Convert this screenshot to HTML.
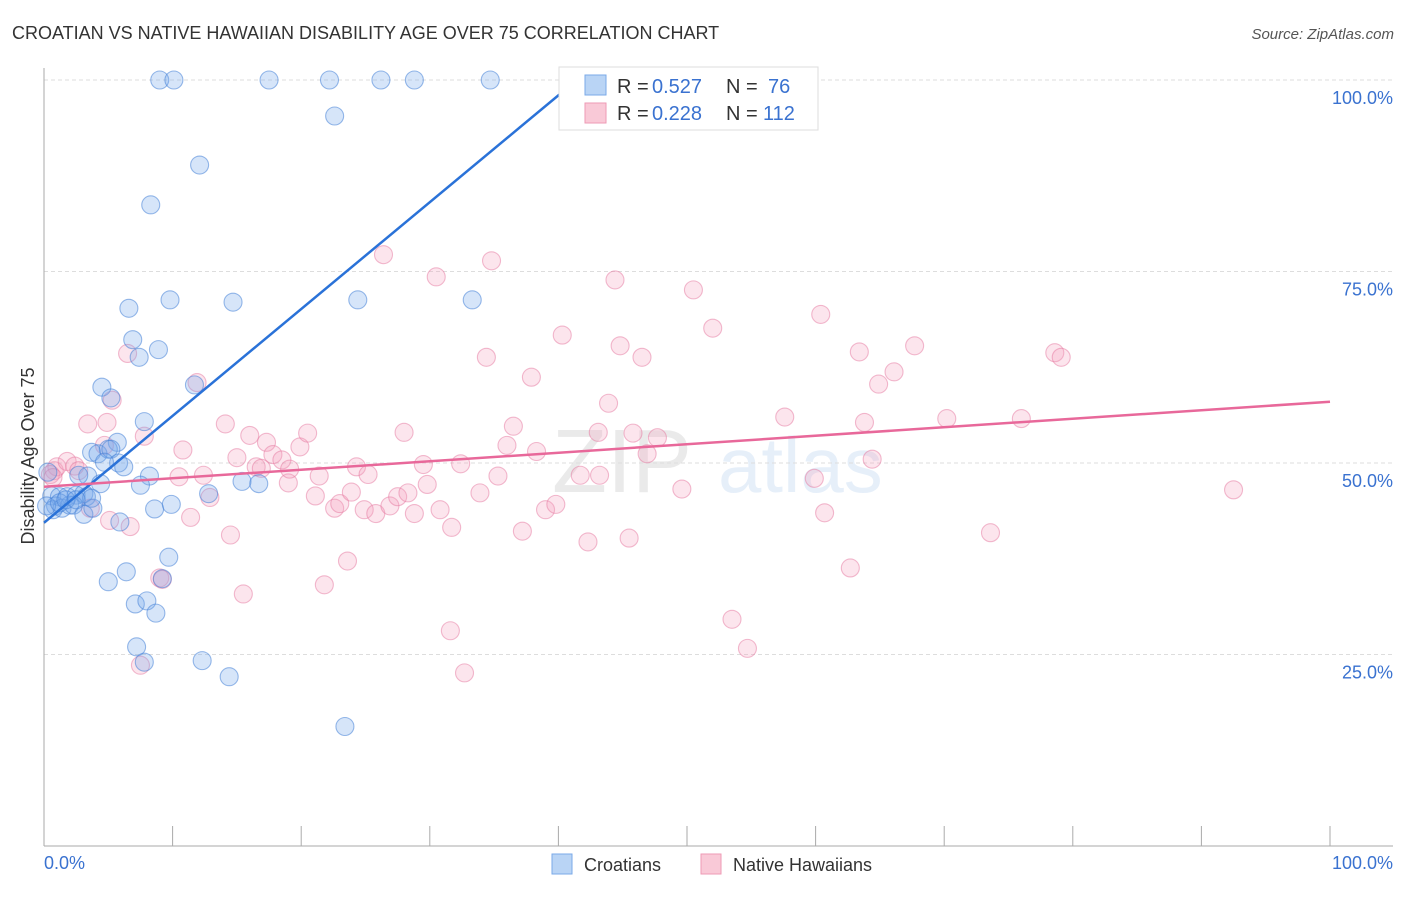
<!DOCTYPE html>
<html><head><meta charset="utf-8"><style>
body{margin:0;background:#fff;font-family:"Liberation Sans",sans-serif;}
svg text{font-family:"Liberation Sans",sans-serif;}
</style></head><body>
<svg id="chart" width="1406" height="892" viewBox="0 0 1406 892" xmlns="http://www.w3.org/2000/svg">
<text x="12" y="39" font-size="18" fill="#333">CROATIAN VS NATIVE HAWAIIAN DISABILITY AGE OVER 75 CORRELATION CHART</text>
<text x="1394" y="39" font-size="15" fill="#555" font-style="italic" text-anchor="end">Source: ZipAtlas.com</text>
<g opacity="0.13">
<text x="552" y="492" font-size="90" font-family="Liberation Serif" fill="#666">ZIP</text>
<text x="718" y="492" font-size="78" fill="#4a8ad8">atlas</text>
</g>
<g id="grid"></g>
<g id="axes"></g>
<g id="points"></g>
<g id="lines"></g>
<text transform="translate(34,456) rotate(-90)" font-size="18" fill="#333" text-anchor="middle">Disability Age Over 75</text>
<g>
<rect x="559" y="67" width="259" height="63" fill="#fff" stroke="#ddd"/>
<rect x="585" y="75" width="21" height="20" fill="#b9d4f5" stroke="#7aaae8"/>
<text x="617" y="93" font-size="20" fill="#333">R =</text>
<text x="652" y="93" font-size="20" fill="#3a72d0">0.527</text>
<text x="726" y="93" font-size="20" fill="#333">N =</text>
<text x="768" y="93" font-size="20" fill="#3a72d0">76</text>
<rect x="585" y="103" width="21" height="20" fill="#f9c9d7" stroke="#ee9ab4"/>
<text x="617" y="120" font-size="20" fill="#333">R =</text>
<text x="652" y="120" font-size="20" fill="#3a72d0">0.228</text>
<text x="726" y="120" font-size="20" fill="#333">N =</text>
<text x="763" y="120" font-size="20" fill="#3a72d0">112</text>
</g>
<g>
<rect x="552" y="854" width="20" height="20" fill="#b9d4f5" stroke="#7aaae8"/>
<text x="584" y="871" font-size="18" fill="#333">Croatians</text>
<rect x="701" y="854" width="20" height="20" fill="#f9c9d7" stroke="#ee9ab4"/>
<text x="733" y="871" font-size="18" fill="#333">Native Hawaiians</text>
</g>
</svg>
<script>
const blueX=[9,10.1,17.5,22.2,26.2,28.8,34.7,22.6,12.1,8.3,6.6,9.8,14.7,24.4,33.3,6.9,8.9,7.4,11.7,4.5,5.2,7.8,5.7,3.7,4.2,5,5.2,5.8,4.7,6.2,8.2,3.4,2.7,4.4,7.5,12.8,15.4,16.7,0.6,1.2,1.8,2.5,3.1,3.3,0.9,0.7,1.4,2,2.3,3.1,3.8,8.6,9.9,3.7,5.9,5,6.4,7.1,8,8.7,9.7,9.2,7.2,7.8,12.3,14.4,23.4,0.3,0.2,1.2,1.7,2.5];
const blueY=[100,100,100,100,100,100,100,95.3,88.9,83.7,70.2,71.3,71,71.3,71.3,66.1,64.8,63.8,60.2,59.9,58.5,55.4,52.7,51.4,51.2,51.8,51.8,50,50.1,49.5,48.3,48.3,48.4,47.3,47.1,46,47.6,47.3,45.7,45.6,45.6,45.8,46,45.6,44.4,43.9,44.1,44.5,44.5,43.3,44.1,44,44.6,45.4,42.3,34.5,35.8,31.6,32,30.4,37.7,34.9,26,24,24.2,22.1,15.6,48.8,44.4,44.8,45.2,45.2];
const pinkX=[0.8,1,0.5,1.8,2.4,2.7,3.4,4.9,5.3,4.7,6.5,7.8,5.1,6.7,3.6,0.7,10.8,10.5,11.9,12.4,12.9,11.4,14.1,14.5,15,15.5,16,16.5,16.9,17.3,17.8,18.5,19,19.1,19.9,20.5,21.1,21.4,21.8,22.6,23,23.6,23.9,24.3,24.9,25.2,25.8,26.4,26.9,27.5,28,28.3,28.8,29.5,29.8,30.5,30.8,31.7,31.6,32.4,32.7,33.9,34.4,34.8,35.3,36,36.5,37.2,37.9,38.3,39,39.8,40.3,41.7,42.3,43.2,43.1,43.9,44.4,44.8,45.5,45.8,46.5,46.9,47.7,49.6,50.5,52,53.5,54.7,57.6,59.9,60.4,60.7,62.7,63.4,63.8,64.4,64.9,66.1,67.7,70.2,73.6,76,78.6,79.1,92.5,9,7.5,9.2];
const pinkY=[49,49.5,48.5,50.2,49.6,49,55.1,55.3,58.2,52.3,64.3,53.5,42.5,41.7,44.1,48.1,51.7,48.2,60.5,48.4,45.5,42.9,55.1,40.6,50.7,32.9,53.6,49.5,49.3,52.7,51.1,50.4,47.4,49.2,52.1,53.9,45.7,48.3,34.1,44.1,44.7,37.2,46.2,49.5,43.9,48.5,43.4,77.2,44.4,45.6,54,46.1,43.4,49.8,47.2,74.3,43.9,41.6,28.1,49.9,22.6,46.1,63.8,76.4,48.3,52.3,54.8,41.1,61.2,51.5,43.9,44.6,66.7,48.4,39.7,48.4,54,57.8,73.9,65.3,40.2,53.9,63.8,51.2,53.3,46.6,72.6,67.6,29.6,25.8,56,48,69.4,43.5,36.3,64.5,55.3,50.5,60.3,61.9,65.3,55.8,40.9,55.8,64.4,63.8,46.5,35,23.6,34.8];
const blueFit=[42.2,1.395,0,40.5];
const pinkFit=[46.9,0.111,0,100];
const xTickVals=[0,10,20,30,40,50,60,70,80,90,100];
const yTickVals=[25,50,75,100];
const yTickLabels=["25.0%","50.0%","75.0%","100.0%"];
const xEndLabels=["0.0%","100.0%"];
const NS="http://www.w3.org/2000/svg";
const X=v=>44+v*12.86, Y=v=>846-v*7.66;
function mk(t,a,p){const e=document.createElementNS(NS,t);for(const k in a)e.setAttribute(k,a[k]);document.getElementById(p).appendChild(e);return e;}
yTickVals.forEach((v,i)=>{
 const l=mk('line',{x1:44,x2:1393,y1:Y(v),y2:Y(v),stroke:'#ddd','stroke-dasharray':'4,3'},'grid');
 
 
 const t=mk('text',{x:1393,y:Y(v)+24,'font-size':18,fill:'#3a72d0','text-anchor':'end'},'axes');
 t.textContent=yTickLabels[i];
 
 
});
const ax=mk('line',{x1:44,x2:44,y1:68,y2:846,stroke:'#aaa'},'axes');


const bx=mk('line',{x1:44,x2:1393,y1:846,y2:846,stroke:'#aaa'},'axes');


xTickVals.forEach(v=>{
 const l=mk('line',{x1:X(v),x2:X(v),y1:826,y2:846,stroke:'#aaa'},'axes');
 
 
});
const t0=mk('text',{x:44,y:869,'font-size':18,fill:'#3a72d0'},'axes');t0.textContent=xEndLabels[0];


const t1=mk('text',{x:1393,y:869,'font-size':18,fill:'#3a72d0','text-anchor':'end'},'axes');t1.textContent=xEndLabels[1];


pinkX.forEach((x,i)=>{
 const c=mk('circle',{cx:X(x),cy:Y(pinkY[i]),r:9,fill:'rgba(245,160,190,0.28)',stroke:'rgba(230,120,160,0.5)','stroke-width':1.1},'points');
 
 
});
blueX.forEach((x,i)=>{
 const c=mk('circle',{cx:X(x),cy:Y(blueY[i]),r:9,fill:'rgba(120,170,235,0.3)',stroke:'rgba(70,130,215,0.55)','stroke-width':1.1},'points');
 
 
});
const bl=mk('line',{x1:X(blueFit[2]),y1:Y(blueFit[0]+blueFit[1]*blueFit[2]),x2:X(blueFit[3]),y2:Y(blueFit[0]+blueFit[1]*blueFit[3]),stroke:'#2a72d8','stroke-width':2.5},'lines');


const pl=mk('line',{x1:X(pinkFit[2]),y1:Y(pinkFit[0]+pinkFit[1]*pinkFit[2]),x2:X(pinkFit[3]),y2:Y(pinkFit[0]+pinkFit[1]*pinkFit[3]),stroke:'#e8689a','stroke-width':2.5},'lines');


</script>
</body></html>
